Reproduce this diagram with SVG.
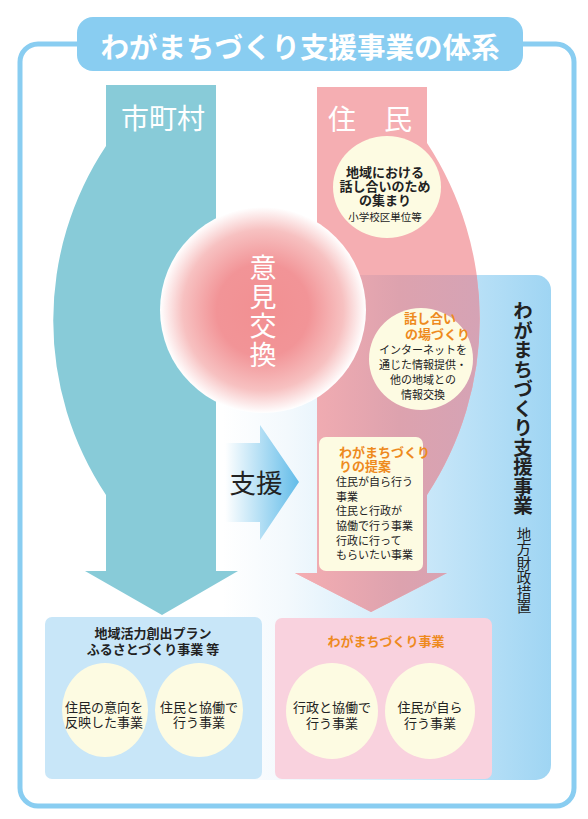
<svg xmlns="http://www.w3.org/2000/svg" width="588" height="819" viewBox="0 0 588 819">
<style>
.jp{font-family:"Noto Sans CJK JP","Noto Sans",sans-serif}
.b{font-weight:bold}
.w{fill:#ffffff}
.k{fill:#222222}
.o{fill:#ee8a1e}
.c{text-anchor:middle}
.cream{fill:#fdfbe2}
.v{writing-mode:vertical-rl}
</style>
<defs>
<linearGradient id="panelG" gradientUnits="userSpaceOnUse" x1="222" y1="0" x2="551" y2="0">
<stop offset="0" stop-color="#ffffff"/>
<stop offset="0.2" stop-color="#f3f9fd"/>
<stop offset="0.6" stop-color="#cbe8f9"/>
<stop offset="1" stop-color="#9fd5f3"/>
</linearGradient>
<linearGradient id="mauveG" gradientUnits="userSpaceOnUse" x1="300" y1="0" x2="480" y2="0">
<stop offset="0" stop-color="#f4adb2"/>
<stop offset="0.55" stop-color="#dda2ae"/>
<stop offset="1" stop-color="#d5a3b5"/>
</linearGradient>
<linearGradient id="supG" gradientUnits="userSpaceOnUse" x1="225" y1="0" x2="299" y2="0">
<stop offset="0" stop-color="#ffffff"/>
<stop offset="1" stop-color="#62bce9"/>
</linearGradient>
<radialGradient id="ikenG" cx="263" cy="310" r="103" gradientUnits="userSpaceOnUse">
<stop offset="0" stop-color="#f29092"/>
<stop offset="0.45" stop-color="#f29497"/>
<stop offset="0.78" stop-color="#f7c1c1"/>
<stop offset="1" stop-color="#ffffff"/>
</radialGradient>
<clipPath id="panelClip"><rect x="222" y="275" width="329" height="505"/></clipPath>
</defs>

<g id="frame">
<rect x="20" y="44" width="554" height="762" rx="18" fill="#ffffff" stroke="#89cdf1" stroke-width="5"/>
</g>

<g id="title">
<rect x="77" y="17" width="446" height="54" rx="16" fill="#89cdf1"/>
<text x="300" y="58" class="jp b w c" font-size="28.5">わがまちづくり支援事業の体系</text>
</g>

<g id="panel">
<path d="M222,275 H536 A15,15 0 0 1 551,290 V765 A15,15 0 0 1 536,780 H222 Z" fill="url(#panelG)"/>
<text x="523" y="301" class="jp b k v" font-size="19.5">わがまちづくり支援事業</text>
<text x="524" y="527" class="jp k v" font-size="14.5">地方財政措置</text>
</g>

<g id="shichouson">
<path d="M106,85 H216 V571 H238 L162,615 L85,571 H106 V495 A315,315 0 0 1 106,146 Z" fill="#88cbd8"/>
<text x="163" y="129" class="jp w c" font-size="28">市町村</text>
</g>

<g id="jumin">
<path d="M317,87 H427 V143 A320,320 0 0 1 427,495 V573 H447 L371,612 L295,573 H317 Z" fill="#f5aeb2"/>
<path d="M317,87 H427 V143 A320,320 0 0 1 427,495 V573 H447 L371,612 L295,573 H317 Z" fill="url(#mauveG)" clip-path="url(#panelClip)"/>
<text x="370" y="130" class="jp w c" font-size="28">住　民</text>
</g>

<g id="iken">
<circle cx="263" cy="310" r="103" fill="url(#ikenG)"/>
<text x="263" y="254" class="jp w v" font-size="27" letter-spacing="2">意見交換</text>
</g>

<g id="bubble1">
<ellipse cx="387" cy="187" rx="54" ry="51" class="cream"/>
<text class="jp b k c" font-size="13"><tspan x="385" y="176.5">地域における</tspan><tspan x="385" y="190.5">話し合いのため</tspan><tspan x="385" y="205">の集まり</tspan></text>
<text x="385" y="221" class="jp k c" font-size="10.5">小学校区単位等</text>
</g>

<g id="bubble2">
<ellipse cx="421" cy="359" rx="52" ry="51" class="cream"/>
<text class="jp b o" font-size="13"><tspan x="404" y="323">話し合い</tspan><tspan x="405" y="338.5">の場づくり</tspan></text>
<text class="jp k c" font-size="11"><tspan x="423" y="353.5">インターネットを</tspan><tspan x="423" y="368.5">通じた情報提供・</tspan><tspan x="423" y="383.5">他の地域との</tspan><tspan x="423" y="398.5">情報交換</tspan></text>
</g>

<g id="teian">
<rect x="319" y="437" width="104" height="134" rx="7" class="cream"/>
<text class="jp b o" font-size="13"><tspan x="339" y="457">わがまちづくり</tspan><tspan x="339" y="471">りの提案</tspan></text>
<text class="jp k" font-size="11"><tspan x="336" y="486">住民が自ら行う</tspan><tspan x="336" y="500.5">事業</tspan><tspan x="336" y="515">住民と行政が</tspan><tspan x="336" y="530">協働で行う事業</tspan><tspan x="336" y="544.5">行政に行って</tspan><tspan x="336" y="559">もらいたい事業</tspan></text>
</g>

<g id="shien">
<path d="M225,443 H260 V425 L299,482 L260,540 V522 H225 Z" fill="url(#supG)"/>
<text x="256" y="493" class="jp k c" font-size="26.5">支援</text>
</g>

<g id="chiiki">
<rect x="45" y="617" width="217" height="162" rx="7" fill="#c8e6f8"/>
<text class="jp b k c" font-size="13"><tspan x="153" y="638">地域活力創出プラン</tspan><tspan x="153" y="654">ふるさとづくり事業 等</tspan></text>
<ellipse cx="105" cy="710" rx="43" ry="47" class="cream"/>
<ellipse cx="199" cy="710" rx="44" ry="47" class="cream"/>
<text class="jp k c" font-size="13"><tspan x="104" y="712">住民の意向を</tspan><tspan x="104" y="727">反映した事業</tspan></text>
<text class="jp k c" font-size="13"><tspan x="199" y="712">住民と協働で</tspan><tspan x="199" y="727">行う事業</tspan></text>
</g>

<g id="wagamachi">
<rect x="275" y="618" width="217" height="161" rx="7" fill="#f9d2de"/>
<text x="386" y="646" class="jp b o c" font-size="13">わがまちづくり事業</text>
<ellipse cx="332" cy="711" rx="46" ry="48" class="cream"/>
<ellipse cx="430" cy="711" rx="45" ry="48" class="cream"/>
<text class="jp k c" font-size="13"><tspan x="332" y="712">行政と協働で</tspan><tspan x="332" y="728">行う事業</tspan></text>
<text class="jp k c" font-size="13"><tspan x="430" y="712">住民が自ら</tspan><tspan x="430" y="728">行う事業</tspan></text>
</g>
</svg>
